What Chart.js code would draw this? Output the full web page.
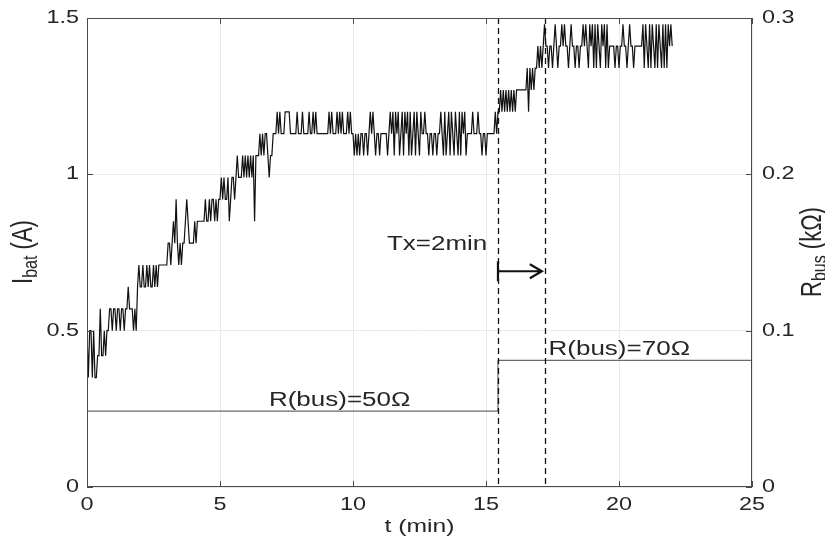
<!DOCTYPE html>
<html>
<head>
<meta charset="utf-8">
<script src="https://cdn.jsdelivr.net/npm/chart.js@4.4.1/dist/chart.umd.min.js"></script>
<style>
  html, body { margin: 0; padding: 0; background: #fff; }
  #wrap { width: 825px; height: 546px; }
</style>
</head>
<body>
<div id="wrap"><canvas id="chartIbat"></canvas></div>
<script>
// battery current, one sample every 0.05 min, one array per minute (A)
const SAMPLE_DT = 0.05;
const ibatMin0 = [0.50,0.35,0.50,0.50,0.35,0.50,0.35,0.35,0.42,0.42,0.57,0.42,0.42,0.50,0.42,0.50,0.50,0.57,0.57,0.50];
const ibatMin1 = [0.57,0.57,0.50,0.57,0.57,0.50,0.57,0.57,0.50,0.57,0.57,0.64,0.57,0.57,0.57,0.50,0.57,0.50,0.64,0.71];
const ibatMin2 = [0.64,0.64,0.71,0.64,0.64,0.71,0.64,0.71,0.64,0.64,0.71,0.64,0.71,0.64,0.71,0.71,0.71,0.71,0.71,0.71];
const ibatMin3 = [0.71,0.78,0.78,0.71,0.78,0.85,0.78,0.92,0.78,0.71,0.78,0.71,0.78,0.78,0.85,0.92,0.85,0.78,0.78,0.78];
const ibatMin4 = [0.78,0.85,0.78,0.85,0.85,0.85,0.85,0.85,0.85,0.92,0.85,0.85,0.92,0.85,0.92,0.92,0.85,0.92,0.85,0.92];
const ibatMin5 = [0.92,0.99,0.92,0.99,0.92,0.92,0.99,0.85,0.92,0.99,0.99,0.92,0.99,1.06,0.99,0.99,0.99,1.06,0.99,1.06];
const ibatMin6 = [0.99,1.06,0.99,1.06,0.99,1.06,0.85,1.06,1.06,1.06,1.13,1.06,1.13,1.06,1.13,1.13,1.06,0.99,1.06,1.06];
const ibatMin7 = [1.13,1.13,1.13,1.20,1.13,1.20,1.13,1.13,1.13,1.20,1.20,1.20,1.20,1.13,1.13,1.13,1.13,1.13,1.20,1.13];
const ibatMin8 = [1.13,1.13,1.20,1.13,1.13,1.13,1.13,1.20,1.13,1.13,1.20,1.13,1.20,1.13,1.13,1.13,1.13,1.13,1.13,1.13];
const ibatMin9 = [1.13,1.13,1.20,1.13,1.20,1.13,1.13,1.13,1.20,1.13,1.20,1.13,1.20,1.13,1.13,1.13,1.20,1.13,1.20,1.13];
const ibatMin10 = [1.13,1.06,1.13,1.06,1.13,1.06,1.13,1.13,1.06,1.13,1.13,1.06,1.13,1.20,1.13,1.20,1.13,1.06,1.13,1.13];
const ibatMin11 = [1.06,1.13,1.13,1.13,1.13,1.13,1.06,1.13,1.20,1.13,1.20,1.06,1.20,1.13,1.20,1.06,1.13,1.20,1.06,1.20];
const ibatMin12 = [1.13,1.20,1.06,1.20,1.06,1.13,1.20,1.06,1.20,1.13,1.06,1.20,1.13,1.13,1.20,1.13,1.13,1.06,1.13,1.13];
const ibatMin13 = [1.06,1.13,1.13,1.06,1.13,1.13,1.20,1.13,1.06,1.20,1.06,1.13,1.20,1.06,1.20,1.13,1.06,1.20,1.13,1.06];
const ibatMin14 = [1.20,1.06,1.20,1.13,1.20,1.06,1.13,1.13,1.13,1.13,1.20,1.13,1.13,1.13,1.20,1.13,1.13,1.06,1.13,1.13];
const ibatMin15 = [1.06,1.13,1.13,1.13,1.13,1.13,1.13,1.20,1.13,1.20,1.20,1.27,1.20,1.27,1.20,1.27,1.20,1.27,1.20,1.27];
const ibatMin16 = [1.20,1.27,1.20,1.27,1.27,1.27,1.27,1.27,1.27,1.27,1.27,1.34,1.20,1.34,1.27,1.34,1.27,1.34,1.34,1.41];
const ibatMin17 = [1.34,1.41,1.34,1.41,1.48,1.41,1.41,1.34,1.41,1.41,1.34,1.41,1.48,1.41,1.34,1.41,1.41,1.48,1.41,1.48];
const ibatMin18 = [1.41,1.41,1.34,1.41,1.48,1.41,1.41,1.34,1.41,1.41,1.34,1.41,1.41,1.48,1.41,1.48,1.41,1.34,1.48,1.41];
const ibatMin19 = [1.48,1.34,1.48,1.34,1.48,1.41,1.34,1.48,1.41,1.48,1.34,1.48,1.34,1.41,1.41,1.41,1.41,1.34,1.41,1.41];
const ibatMin20 = [1.34,1.41,1.41,1.48,1.41,1.41,1.34,1.41,1.48,1.41,1.41,1.34,1.41,1.41,1.41,1.41,1.41,1.41,1.48,1.34];
const ibatMin21 = [1.48,1.41,1.34,1.48,1.34,1.48,1.41,1.34,1.48,1.34,1.48,1.41,1.34,1.48,1.34,1.48,1.34,1.48,1.41,1.48,1.41];

// bus resistance step (kOhm, right axis)
const rbusTimes = [0, 15.45, 15.45, 25];
const rbusValues = [0.0485, 0.0485, 0.081, 0.081];

const xTicks = [0, 5, 10, 15, 20, 25];
const yLeftTicks = [0, 0.5, 1, 1.5];
const yRightTicks = [0, 0.1, 0.2, 0.3];

// dashed markers + Tx arrow (t in min, level in A)
const markerTimes = [15.45, 17.22];
const arrowTimes = [15.45, 17.1];
const arrowLevel = 0.69;
const noteTexts = ['Tx=2min', 'R(bus)=70Ω', 'R(bus)=50Ω'];
const noteTimes = [15.05, 17.35, 9.5];
const noteLevels = [0.775, 0.44, 0.278];
const noteAligns = ['right', 'left', 'center'];

const FONT = '"Liberation Sans", Arial, Helvetica, sans-serif';
const TXT = '#262626';
const SX = 1.3; // the figure is stretched sideways

const ibatAll = [].concat(ibatMin0, ibatMin1, ibatMin2, ibatMin3, ibatMin4, ibatMin5, ibatMin6, ibatMin7,
  ibatMin8, ibatMin9, ibatMin10, ibatMin11, ibatMin12, ibatMin13, ibatMin14, ibatMin15, ibatMin16,
  ibatMin17, ibatMin18, ibatMin19, ibatMin20, ibatMin21);
const ibatPts = ibatAll.map((v, i) => ({ x: +(i * SAMPLE_DT).toFixed(2), y: v }));
const rbusPts = rbusTimes.map((t, i) => ({ x: t, y: rbusValues[i] }));

function txt(ctx, s, x, y, size, align, rot) {
  ctx.save();
  ctx.translate(x, y);
  ctx.scale(SX, 1);
  if (rot) ctx.rotate(rot);
  ctx.font = size + 'px ' + FONT;
  ctx.fillStyle = TXT;
  ctx.textAlign = align || 'center';
  ctx.textBaseline = 'middle';
  ctx.fillText(s, 0, 0);
  ctx.restore();
}

// text with one subscript part, centred on (x, y), rotated -90deg
function subTitle(ctx, main, sub, rest, x, y, size) {
  ctx.save();
  ctx.translate(x, y);
  ctx.scale(SX, 1);
  ctx.rotate(-Math.PI / 2);
  ctx.fillStyle = TXT;
  ctx.textBaseline = 'alphabetic';
  const subSize = Math.round(size * 0.72);
  ctx.font = size + 'px ' + FONT; const w1 = ctx.measureText(main).width, w3 = ctx.measureText(rest).width;
  ctx.font = subSize + 'px ' + FONT; const w2 = ctx.measureText(sub).width;
  let cx = -(w1 + w2 + w3) / 2;
  const base = size * 0.36;
  ctx.textAlign = 'left';
  ctx.font = size + 'px ' + FONT; ctx.fillText(main, cx, base); cx += w1;
  ctx.font = subSize + 'px ' + FONT; ctx.fillText(sub, cx, base + size * 0.18); cx += w2;
  ctx.font = size + 'px ' + FONT; ctx.fillText(rest, cx, base);
  ctx.restore();
}

const matlabFrame = {
  id: 'matlabFrame',
  afterDatasetsDraw(chart) {
    const { ctx, chartArea: a, scales } = chart;
    const x = scales.x, y = scales.y, y1 = scales.y1;
    ctx.save();
    // dashed markers
    ctx.strokeStyle = '#111'; ctx.lineWidth = 1.3; ctx.setLineDash([6, 4]);
    markerTimes.forEach(t => {
      const px = Math.round(x.getPixelForValue(t)) + 0.5;
      ctx.beginPath(); ctx.moveTo(px, a.top); ctx.lineTo(px, a.bottom); ctx.stroke();
    });
    ctx.setLineDash([]);
    // arrow |-->
    const ay = y.getPixelForValue(arrowLevel);
    const ax0 = x.getPixelForValue(arrowTimes[0]), ax1 = x.getPixelForValue(arrowTimes[1]);
    ctx.strokeStyle = '#111'; ctx.lineWidth = 2.2;
    ctx.beginPath();
    ctx.moveTo(ax0, ay - 10); ctx.lineTo(ax0, ay + 10);
    ctx.moveTo(ax0, ay); ctx.lineTo(ax1, ay);
    ctx.moveTo(ax1 - 12, ay - 7); ctx.lineTo(ax1, ay); ctx.lineTo(ax1 - 12, ay + 7);
    ctx.stroke();
    // frame + inward ticks
    ctx.strokeStyle = '#4a4a4a'; ctx.lineWidth = 1;
    ctx.strokeRect(a.left + 0.5, a.top + 0.5, a.right - a.left - 1, a.bottom - a.top - 1);
    ctx.beginPath();
    xTicks.forEach(v => {
      const px = Math.round(x.getPixelForValue(v)) + 0.5;
      ctx.moveTo(px, a.bottom); ctx.lineTo(px, a.bottom - 6);
      ctx.moveTo(px, a.top); ctx.lineTo(px, a.top + 6);
    });
    yLeftTicks.forEach(v => {
      const py = Math.round(y.getPixelForValue(v)) + 0.5;
      ctx.moveTo(a.left, py); ctx.lineTo(a.left + 6, py);
    });
    yRightTicks.forEach(v => {
      const py = Math.round(y1.getPixelForValue(v)) + 0.5;
      ctx.moveTo(a.right, py); ctx.lineTo(a.right - 6, py);
    });
    ctx.stroke();
    ctx.restore();

    // tick labels
    xTicks.forEach(v => txt(ctx, String(v), x.getPixelForValue(v), a.bottom + 18, 18, 'center'));
    yLeftTicks.forEach(v => txt(ctx, String(v), a.left - 8, y.getPixelForValue(v), 18, 'right'));
    yRightTicks.forEach(v => txt(ctx, String(v), a.right + 10, y1.getPixelForValue(v), 18, 'left'));
    // axis titles
    txt(ctx, 't (min)', (a.left + a.right) / 2, a.bottom + 40, 19, 'center');
    subTitle(ctx, 'I', 'bat', ' (A)', 22, 252, 22);
    subTitle(ctx, 'R', 'bus', ' (kΩ)', 811, 252, 22);
    // notes
    noteTexts.forEach((s, i) => txt(ctx, s, x.getPixelForValue(noteTimes[i]), y.getPixelForValue(noteLevels[i]), 20, noteAligns[i]));
  }
};

new Chart(document.getElementById('chartIbat'), {
  type: 'line',
  data: {
    datasets: [
      { label: 'Ibat', data: ibatPts, yAxisID: 'y', borderColor: '#111', borderWidth: 1.2, pointRadius: 0, tension: 0 },
      { label: 'Rbus', data: rbusPts, yAxisID: 'y1', borderColor: '#6a6a6a', borderWidth: 1.2, pointRadius: 0, tension: 0 }
    ]
  },
  options: {
    animation: false, responsive: true, maintainAspectRatio: false,
    layout: { padding: { top: 18, left: 0, right: 0, bottom: 0 } },
    plugins: { legend: { display: false }, tooltip: { enabled: false } },
    scales: {
      x: {
        type: 'linear', min: 0, max: 25,
        afterBuildTicks: s => { s.ticks = xTicks.map(v => ({ value: v })); },
        afterFit: s => { s.height = 59; },
        ticks: { display: false }, border: { display: false },
        grid: { color: '#e9e9e9', drawTicks: false }
      },
      y: {
        position: 'left', min: 0, max: 1.5,
        afterBuildTicks: s => { s.ticks = yLeftTicks.map(v => ({ value: v })); },
        afterFit: s => { s.width = 87; },
        ticks: { display: false }, border: { display: false },
        grid: { color: '#e9e9e9', drawTicks: false }
      },
      y1: {
        position: 'right', min: 0, max: 0.3,
        afterBuildTicks: s => { s.ticks = yRightTicks.map(v => ({ value: v })); },
        afterFit: s => { s.width = 73; },
        ticks: { display: false }, border: { display: false },
        grid: { display: false }
      }
    }
  },
  plugins: [matlabFrame]
});
</script>
</body>
</html>
